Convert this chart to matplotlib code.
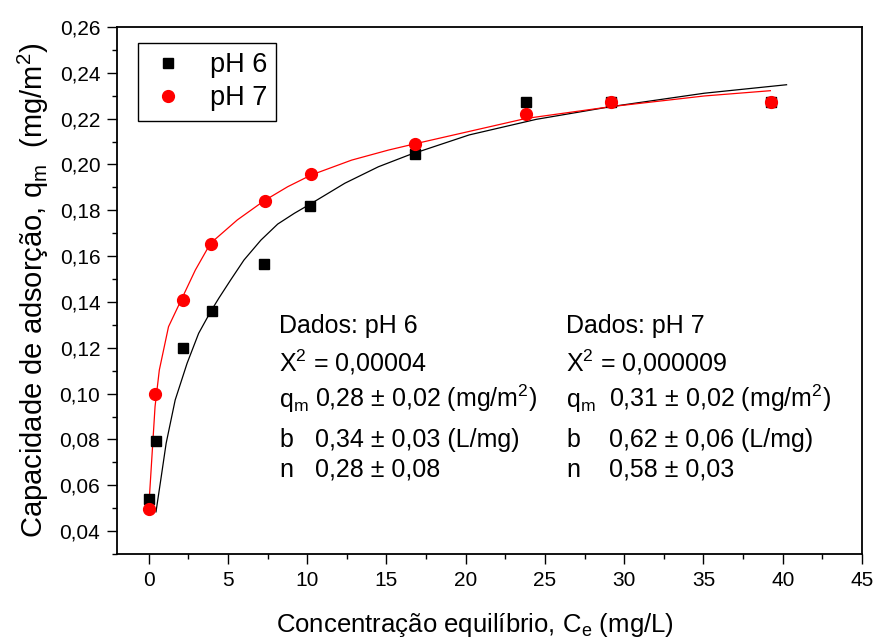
import numpy as np
import matplotlib.pyplot as plt
from matplotlib.ticker import MultipleLocator, FuncFormatter

plt.rcParams['font.family'] = ['Liberation Sans', 'DejaVu Sans']
plt.rcParams['mathtext.fontset'] = 'custom'
plt.rcParams['mathtext.rm'] = 'Liberation Sans'
plt.rcParams['mathtext.it'] = 'Liberation Sans:italic'

# measured points
ce_ph6 = [0.0, 0.45, 2.16, 4.0, 7.27, 10.2, 16.82, 23.78, 29.16, 39.25]
q_ph6 = [0.0542, 0.0791, 0.1201, 0.1362, 0.1567, 0.1817, 0.2044, 0.2273, 0.2273, 0.2273]
ce_ph7 = [0.0, 0.4, 2.14, 3.96, 7.33, 10.25, 16.82, 23.78, 29.16, 39.25]
q_ph7 = [0.0495, 0.0998, 0.1408, 0.1655, 0.1839, 0.1957, 0.2091, 0.2222, 0.2273, 0.2273]

# fitted curves
fit6_x = [0.46, 0.76, 1.10, 1.67, 2.42, 3.15, 3.90, 4.42, 5.17, 6.01, 7.08, 8.14, 9.19,
          10.26, 12.37, 14.49, 16.40, 20.22, 24.45, 29.12, 35.05, 40.24]
fit6_y = [0.0484, 0.0623, 0.0783, 0.0972, 0.1132, 0.1263, 0.1357, 0.1416, 0.1496, 0.1583,
          0.1670, 0.1740, 0.1787, 0.1830, 0.1918, 0.1990, 0.2041, 0.2129, 0.2197, 0.2252,
          0.2311, 0.2348]
fit7_x = [0.0, 0.19, 0.40, 0.67, 1.25, 2.10, 2.94, 3.90, 5.59, 7.29, 8.77, 10.25, 12.80,
          15.13, 16.72, 23.81, 29.12, 35.05, 39.22]
fit7_y = [0.0499, 0.0710, 0.0943, 0.1103, 0.1292, 0.1416, 0.1539, 0.1656, 0.1758, 0.1842,
          0.1903, 0.1954, 0.2019, 0.2063, 0.2089, 0.2201, 0.2252, 0.2299, 0.2322]

fig = plt.figure(figsize=(8.75, 6.39), dpi=100)
ax = fig.add_axes([117/875, 1-554/639, 745/875, 527/639])

ax.plot(fit6_x, fit6_y, color='black', linewidth=0.9)
ax.plot(fit7_x, fit7_y, color='red', linewidth=0.9)
ax.plot(ce_ph6, q_ph6, 's', color='black', markersize=7.5, label='pH 6')
ax.plot(ce_ph7, q_ph7, 'o', color='red', markersize=8.5, label='pH 7')

ax.set_xlim(-2, 45)
ax.set_ylim(0.03, 0.26)
ax.xaxis.set_major_locator(MultipleLocator(5))
ax.xaxis.set_minor_locator(MultipleLocator(2.5))
ax.yaxis.set_minor_locator(MultipleLocator(0.01))
ax.set_yticks(np.arange(0.04, 0.261, 0.02))
ax.yaxis.set_major_formatter(FuncFormatter(lambda v, p: f'{v:.2f}'.replace('.', ',')))

ax.tick_params(which='major', direction='out', length=7, width=1, labelsize=15, pad=5)
ax.tick_params(which='minor', direction='out', length=3.5, width=1)
for s in ax.spines.values():
    s.set_linewidth(1.3)

ax.set_xlabel('Concentração equilíbrio, C$_\\mathrm{e}$ (mg/L)', fontsize=18.5)
ax.xaxis.set_label_coords(0.48, -0.108)
ax.set_ylabel('Capacidade de adsorção, q$_\\mathrm{m}$  (mg/m$^2$)', fontsize=21, labelpad=6)

leg = ax.legend(loc='upper left', bbox_to_anchor=(0.028, 0.97), fontsize=19.5,
                fancybox=False, edgecolor='black', framealpha=1, handletextpad=0.8,
                borderpad=0.35, labelspacing=0.25, handlelength=1.5, borderaxespad=0)
leg.get_frame().set_linewidth(1)

ys = [0.1263, 0.1095, 0.0943, 0.0768, 0.0637]
blocks = [
    (8.22, 10.51, 'Dados: pH 6', '0,00004', '0,28 ± 0,02', '0,34 ± 0,03', '0,28 ± 0,08'),
    (26.34, 29.01, 'Dados: pH 7', '0,000009', '0,31 ± 0,02', '0,62 ± 0,06', '0,58 ± 0,03'),
]
fs = 18
for x0, x1, title, chi, qm, b, n in blocks:
    ax.text(x0, ys[0], title, fontsize=fs)
    ax.text(x0, ys[1], 'X$^2$ = ' + chi, fontsize=fs)
    ax.text(x0, ys[2], 'q$_\\mathrm{m}$', fontsize=fs)
    ax.text(x1, ys[2], qm + ' (mg/m$^2$)', fontsize=fs)
    ax.text(x0, ys[3], 'b', fontsize=fs)
    ax.text(x1, ys[3], b + ' (L/mg)', fontsize=fs)
    ax.text(x0, ys[4], 'n', fontsize=fs)
    ax.text(x1, ys[4], n, fontsize=fs)

fig.savefig('out.png', dpi=100)
